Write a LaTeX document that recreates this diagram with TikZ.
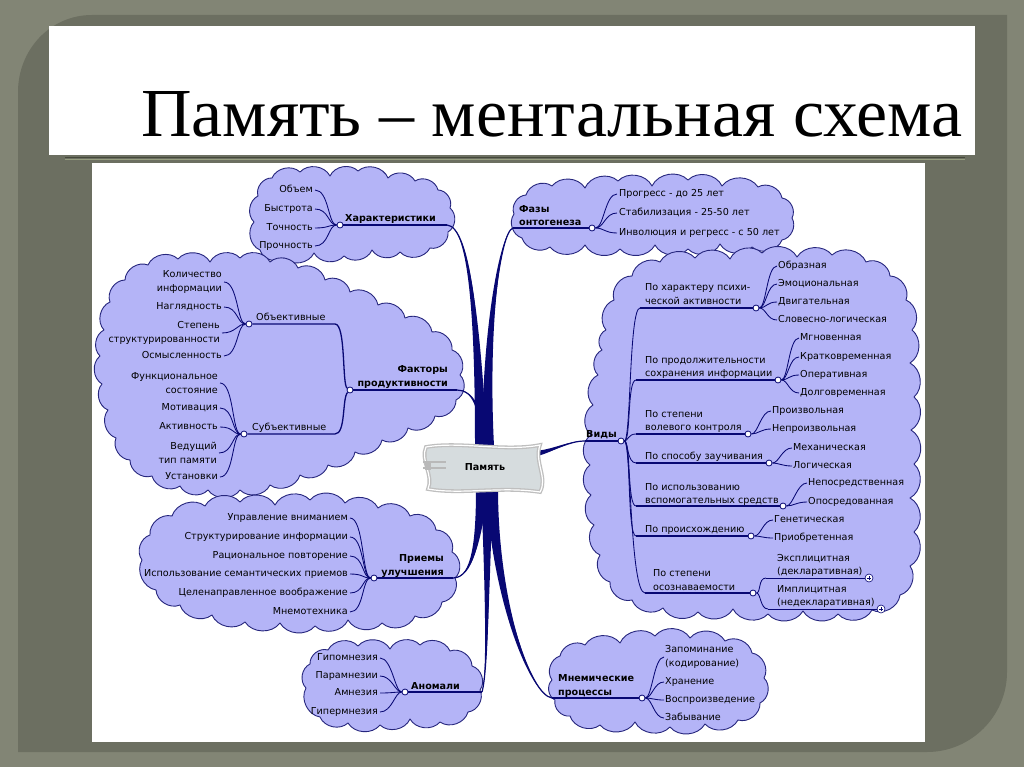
\documentclass[tikz,border=0pt]{standalone}
\usepackage{fontspec}
\usepackage{graphicx}
\setmainfont{DejaVu Sans}
\newfontfamily\titlefont{Liberation Serif}
\usetikzlibrary{calc}
\definecolor{outerbg}{RGB}{130,133,117}
\definecolor{panelbg}{RGB}{108,111,97}
\definecolor{navy}{RGB}{8,8,115}
\definecolor{cloudfill}{RGB}{180,180,247}
\definecolor{cloudline}{RGB}{38,38,125}
\definecolor{memfill}{RGB}{214,220,222}
\definecolor{ruledark}{RGB}{68,72,58}
\definecolor{rulelight}{RGB}{150,158,128}
\pgfdeclarelayer{frame}
\pgfdeclarelayer{clouds}
\pgfdeclarelayer{branches}
\pgfdeclarelayer{blob}
\pgfsetlayers{frame,clouds,branches,blob,main}
\newcommand{\mapfont}{\fontsize{9.6}{13.5}\selectfont}
\newcommand{\cloudblob}[2]{\path[cloudshape] (#1) \foreach \px/\py in {#2} { to[bend left=55] (\px,\py) };}
\newcommand{\taper}[5]{%
  \fill[navy] (#1) .. controls (#2) and (#3) .. ($(#4)+(#5)$) -- ($(#4)-(#5)$) .. controls ($(#3)-(#5)$) and (#2) .. (#1) -- cycle;
  \draw[navy, line width=1.2pt] (#1) .. controls (#2) and (#3) .. (#4);}
\tikzset{
  cloudshape/.style={fill=cloudfill, draw=cloudline, line width=0.9pt, line join=round},
  itm/.style={font=\mapfont, inner sep=0pt, text height=7pt, text depth=2pt},
  itmm/.style={font=\mapfont, inner sep=0pt},
  lbl/.style={font=\mapfont\bfseries, inner sep=0pt, text height=7pt, text depth=2pt},
  lblm/.style={font=\mapfont\bfseries, inner sep=0pt},
  hub/.style={circle, draw=navy, fill=white, line width=0.8pt, minimum size=6pt, inner sep=0pt},
  twig/.style={draw=navy, line width=0.85pt},
  uline/.style={draw=navy, line width=1.3pt},
  plusc/.style={circle, draw=navy, fill=white, line width=0.6pt, minimum size=8pt, inner sep=0pt},
}
\begin{document}
\begin{tikzpicture}[x=1pt,y=-1pt]
\useasboundingbox (0,0) rectangle (1024,767);
\begin{pgfonlayer}{frame}
\fill[outerbg] (0,0) rectangle (1024,767);
\fill[panelbg] (18,752) -- (18,92) .. controls (18,50) and (50,15) .. (92,15) -- (1007,15) -- (1007,672) .. controls (1007,716) and (971,752) .. (927,752) -- cycle;
\fill[white] (49,26) rectangle (975,155);
\draw[ruledark, line width=1.6pt] (65,157.5) -- (965,157.5);
\draw[rulelight, line width=1pt] (65,160) -- (965,160);
\fill[white] (92,163) rectangle (925,742);
\end{pgfonlayer}
% title
\node[anchor=base west, inner sep=0pt] (title) at (141,137) {\titlefont\resizebox{821pt}{45pt}{Память – ментальная схема}};
% clouds
\begin{pgfonlayer}{clouds}
\cloudblob{254,222}{258/196,272/178,300/172,330/176,358/171,388/178,415/181,438/190,450/208,448/232,430/248,400/252,372/250,344/256,314/253,284/258,260/250,254/222}
\cloudblob{104,330}{110/302,125/280,148/265,178/259,210/262,240/258,270/262,298/268,325/280,350/292,378/305,405/318,432/332,452/350,460/375,456/400,435/416,408/428,382/440,355/452,328/465,300/475,270/485,240/490,208/490,180/486,152/476,130/460,116/438,108/410,102/384,100/356,104/330}
\cloudblob{142,560}{150/535,172/516,205/506,240/502,275/505,310/500,345/503,378/508,410/516,436/530,452/552,455/578,442/602,415/616,382/623,348/620,315/626,280/623,245/622,212/615,180/605,156/590,142/560}
\cloudblob{306,688}{310/664,328/650,358/646,390/649,420/645,450/651,472/666,480/690,468/712,440/722,410/719,380/725,348/723,320/717,306/688}
\cloudblob{514,214}{526/195,552/186,585/188,618/181,652/186,688/180,722/186,758/187,782/198,792/218,782/240,752/247,720/244,688/249,655/245,620/249,585/245,550/247,522/238,514/214}
\cloudblob{606,330}{614/300,632/276,660/262,695/258,730/259,762/253,797/257,832/255,866/262,890/276,906/300,912/330,910/363,914/397,911/430,914/464,910/498,914/532,910/566,900/595,872/610,838/614,803/611,768/614,733/609,698/612,663/608,632/600,610/582,600/555,594/525,591/495,590/465,591/435,593/405,598/375,602/350,606/330}
\cloudblob{552,680}{560/656,585/645,620/643,655/636,690/638,725/641,752/653,764/678,760/703,738/720,705/724,670/727,635/722,600/725,570/716,555/700,552/680}
\end{pgfonlayer}
% centre
\node[lblm, minimum width=118pt, minimum height=46pt] (mem) at (485,467) {Память};
\begin{pgfonlayer}{blob}
\path[fill=memfill, draw=gray!50, line width=1.3pt, double=white, double distance=1.2pt] (426,447) .. controls (460,441) and (505,452) .. (540,445) .. controls (534,462) and (548,478) .. (540,492) .. controls (500,486) and (462,495) .. (428,489) .. controls (434,476) and (420,460) .. (426,447) -- cycle;
\fill[gray!55] (425,461) rectangle (431,470);
\draw[gray!55, line width=1.2pt] (423,462) -- (446,462) (423,468) -- (446,468);
\end{pgfonlayer}
% ---- Характеристики
\node[hub] (hA) at (340,225) {};
\coordinate (ulA) at (447,225);
\node[lbl, anchor=south west] (lA) at (345,223.5) {Характеристики};
\draw[uline] (hA) -- (ulA);
\foreach \n/\y/\t in {a1/190/Объем, a2/209/Быстрота, a3/228/Точность, a4/246/Прочность}{
  \node[itm, anchor=east] (\n) at (313,\y) {\t};
  \draw[twig] ([xshift=2pt]\n.east) .. controls +(14,0) and +(-12,0) .. (hA);}
% ---- Факторы
\node[hub] (hF) at (350,390) {};
\coordinate (ulF) at (457,390);
\node[lblm, align=right, anchor=south east] (lF) at (448,388.5) {Факторы\\продуктивности};
\draw[uline] (hF) -- (ulF);
\node[hub] (hO) at (249,324) {};
\coordinate (oe) at (335,324);
\node[itm, anchor=south west] (lO) at (256,322.5) {Объективные};
\draw[uline] (hO) -- (oe) .. controls (346,324) and (342,385) .. (hF);
\node[hub] (hS) at (244,434) {};
\coordinate (se) at (335,434);
\node[itm, anchor=south west] (lS) at (252,432.5) {Субъективные};
\draw[uline] (hS) -- (se) .. controls (346,434) and (342,398) .. (hF);
\node[itmm, align=right, anchor=east] (b1) at (222,282) {Количество\\информации};
\node[itm, anchor=east] (b2) at (222,307) {Наглядность};
\node[itmm, align=right, anchor=east] (b3) at (220,333) {Степень\\структурированности};
\node[itm, anchor=east] (b4) at (222,356) {Осмысленность};
\foreach \n in {b1,b2,b3,b4}{
  \draw[twig] ([xshift=2pt]\n.east) .. controls +(14,0) and +(-12,0) .. (hO);}
\node[itmm, align=right, anchor=east] (c1) at (218,383) {Функциональное\\состояние};
\node[itm, anchor=east] (c2) at (218,408) {Мотивация};
\node[itm, anchor=east] (c3) at (218,427) {Активность};
\node[itmm, align=right, anchor=east] (c4) at (217,453) {Ведущий\\тип памяти};
\node[itm, anchor=east] (c5) at (218,477) {Установки};
\foreach \n in {c1,c2,c3,c4,c5}{
  \draw[twig] ([xshift=2pt]\n.east) .. controls +(14,0) and +(-12,0) .. (hS);}
% ---- Приемы
\node[hub] (hP) at (374,578) {};
\coordinate (ulP) at (453,578);
\node[lblm, align=right, anchor=south east] (lP) at (444,577.5) {Приемы\\улучшения};
\draw[uline] (hP) -- (ulP);
\foreach \n/\y/\t in {d1/518/Управление вниманием, d2/537/Структурирование информации, d3/556/Рациональное повторение, d4/574/Использование семантических приемов, d5/593/Целенаправленное воображение, d6/612/Мнемотехника}{
  \node[itm, anchor=east] (\n) at (348,\y) {\t};
  \draw[twig] ([xshift=2pt]\n.east) .. controls +(14,0) and +(-12,0) .. (hP);}
% ---- Аномали
\node[hub] (hN) at (405,692) {};
\coordinate (ulN) at (482,692);
\node[lbl, anchor=south west] (lN) at (411,691.5) {Аномали};
\draw[uline] (hN) -- (ulN);
\foreach \n/\y/\t in {e1/658/Гипомнезия, e2/676/Парамнезии, e3/693/Амнезия, e4/712/Гипермнезия}{
  \node[itm, anchor=east] (\n) at (378,\y) {\t};
  \draw[twig] ([xshift=2pt]\n.east) .. controls +(12,0) and +(-10,0) .. (hN);}
% ---- Фазы онтогенеза
\node[hub] (hZ) at (592,228) {};
\coordinate (ulZ) at (513,228);
\node[lblm, align=left, anchor=south west] (lZ) at (519,226) {Фазы\\онтогенеза};
\draw[uline] (ulZ) -- (hZ);
\foreach \n/\y/\t in {f1/194/Прогресс - до 25 лет, f2/213/Стабилизация - 25-50 лет, f3/233/Инволюция и регресс - с 50 лет}{
  \node[itm, anchor=west] (\n) at (619,\y) {\t};
  \draw[twig] (hZ) .. controls +(12,0) and +(-12,0) .. ([xshift=-2pt]\n.west);}
% ---- Виды
\node[hub] (vh) at (621,441) {};
\coordinate (vs) at (585,441);
\node[lbl, anchor=south west] (lV) at (586,440) {Виды};
\draw[uline] (vs) -- (vh);
% sub 1
\coordinate (s1) at (640,308);
\node[hub] (h1) at (756,308) {};
\node[itmm, align=left, anchor=south west] (l1) at (645,304.5) {По характеру психи-\\ческой активности};
\draw[uline] (s1) -- (h1);
\draw[twig] (vh) .. controls (631,441) and (629,308) .. (s1);
\foreach \n/\y/\t in {v11/266/Образная, v12/284/Эмоциональная, v13/302/Двигательная, v14/320/Словесно-логическая}{
  \node[itm, anchor=west] (\n) at (778,\y) {\t};
  \draw[twig] (h1) .. controls +(10,0) and +(-10,0) .. ([xshift=-1pt]\n.west);}
% sub 2
\coordinate (s2) at (636,380);
\node[hub] (h2) at (778,380) {};
\node[itmm, align=left, anchor=south west] (l2) at (645,378.7) {По продолжительности\\сохранения информации};
\draw[uline] (s2) -- (h2);
\draw[twig] (vh) .. controls (631,441) and (627,380) .. (s2);
\foreach \n/\y/\t in {v21/338/Мгновенная, v22/357/Кратковременная, v23/375/Оперативная, v24/393/Долговременная}{
  \node[itm, anchor=west] (\n) at (800,\y) {\t};
  \draw[twig] (h2) .. controls +(10,0) and +(-10,0) .. ([xshift=-1pt]\n.west);}
% sub 3
\coordinate (s3) at (636,434);
\node[hub] (h3) at (748,434) {};
\node[itmm, align=left, anchor=south west] (l3) at (645,432.7) {По степени\\волевого контроля};
\draw[uline] (s3) -- (h3);
\draw[twig] (vh) .. controls (628,441) and (628,434) .. (s3);
\foreach \n/\y/\t in {v31/411/Произвольная, v32/429/Непроизвольная}{
  \node[itm, anchor=west] (\n) at (772,\y) {\t};
  \draw[twig] (h3) .. controls +(10,0) and +(-10,0) .. ([xshift=-1pt]\n.west);}
% sub 4
\coordinate (s4) at (636,463);
\node[hub] (h4) at (769,463) {};
\node[itm, anchor=south west] (l4) at (645,462) {По способу заучивания};
\draw[uline] (s4) -- (h4);
\draw[twig] (vh) .. controls (628,441) and (627,463) .. (s4);
\foreach \n/\y/\t in {v41/448/Механическая, v42/466/Логическая}{
  \node[itm, anchor=west] (\n) at (793,\y) {\t};
  \draw[twig] (h4) .. controls +(10,0) and +(-10,0) .. ([xshift=-1pt]\n.west);}
% sub 5
\coordinate (s5) at (636,506);
\node[hub] (h5) at (783,506) {};
\node[itmm, align=left, anchor=south west] (l5) at (645,505.7) {По использованию\\вспомогательных средств};
\draw[uline] (s5) -- (h5);
\draw[twig] (vh) .. controls (631,441) and (627,506) .. (s5);
\foreach \n/\y/\t in {v51/483/Непосредственная, v52/502/Опосредованная}{
  \node[itm, anchor=west] (\n) at (808,\y) {\t};
  \draw[twig] (h5) .. controls +(10,0) and +(-10,0) .. ([xshift=-1pt]\n.west);}
% sub 6
\coordinate (s6) at (636,536);
\node[hub] (h6) at (751,536) {};
\node[itm, anchor=south west] (l6) at (645,535) {По происхождению};
\draw[uline] (s6) -- (h6);
\draw[twig] (vh) .. controls (631,441) and (627,536) .. (s6);
\foreach \n/\y/\t in {v61/520/Генетическая, v62/538/Приобретенная}{
  \node[itm, anchor=west] (\n) at (774,\y) {\t};
  \draw[twig] (h6) .. controls +(10,0) and +(-10,0) .. ([xshift=-1pt]\n.west);}
% sub 7
\coordinate (s7) at (645,593);
\node[hub] (h7) at (753,593) {};
\node[itmm, align=left, anchor=south west] (l7) at (653,590.5) {По степени\\осознаваемости};
\draw[uline] (s7) -- (h7);
\draw[twig] (vh) .. controls (631,441) and (630,593) .. (s7);
\node[itmm, align=left, anchor=south west] (v71) at (777,576.7) {Эксплицитная\\(декларативная)};
\coordinate (u71) at (766,578);
\node[plusc] (p71) at (869,578) {};
\draw[twig] (h7) .. controls +(8,0) and +(-8,0) .. (u71);
\draw[twig] (u71) -- (p71);
\draw[navy, line width=0.6pt] ([xshift=-2.2pt]p71.center) -- ([xshift=2.2pt]p71.center) ([yshift=-2.2pt]p71.center) -- ([yshift=2.2pt]p71.center);
\node[itmm, align=left, anchor=south west] (v72) at (777,607.7) {Имплицитная\\(недекларативная)};
\coordinate (u72) at (768,609);
\node[plusc] (p72) at (881,609) {};
\draw[twig] (h7) .. controls +(8,0) and +(-8,0) .. (u72);
\draw[twig] (u72) -- (p72);
\draw[navy, line width=0.6pt] ([xshift=-2.2pt]p72.center) -- ([xshift=2.2pt]p72.center) ([yshift=-2.2pt]p72.center) -- ([yshift=2.2pt]p72.center);
% ---- Мнемические процессы
\coordinate (ulM) at (552,698);
\node[hub] (hM) at (642,698) {};
\node[lblm, align=left, anchor=south west] (lM) at (558,697.5) {Мнемические\\процессы};
\draw[uline] (ulM) -- (hM);
\node[itmm, align=left, anchor=west] (m1) at (665,657) {Запоминание\\(кодирование)};
\node[itm, anchor=west] (m2) at (665,682) {Хранение};
\node[itm, anchor=west] (m3) at (665,700) {Воспроизведение};
\node[itm, anchor=west] (m4) at (665,718) {Забывание};
\foreach \n in {m1,m2,m3,m4}{
  \draw[twig] (hM) .. controls +(10,0) and +(-10,0) .. ([xshift=-1pt]\n.west);}
% ---- main branches
\begin{pgfonlayer}{branches}
\coordinate (pA) at ($(mem.north)+(-4,2)$);
\coordinate (pZ) at ($(mem.north)+(3,2)$);
\coordinate (pF) at ($(mem.north)+(-1,2)$);
\coordinate (pP) at ($(mem.south)+(-3,-2)$);
\coordinate (pN) at ($(mem.south)+(2,-2)$);
\coordinate (pM) at ($(mem.south)+(7,-2)$);
\coordinate (pV) at ($(mem.east)+(-5,-14)$);
\taper{ulA}{470,226}{481,330}{pA}{6,0}
\taper{ulZ}{500,232}{488,330}{pZ}{6,0}
\taper{ulF}{472,390}{484,408}{pF}{4,0}
\taper{ulP}{472,578}{482,540}{pP}{6,0}
\taper{ulN}{488,672}{490,560}{pN}{6,0}
\taper{ulM}{530,695}{498,600}{pM}{6,0}
\taper{vs}{568,441}{555,451}{pV}{0,2.5}
\end{pgfonlayer}
\end{tikzpicture}
\end{document}
